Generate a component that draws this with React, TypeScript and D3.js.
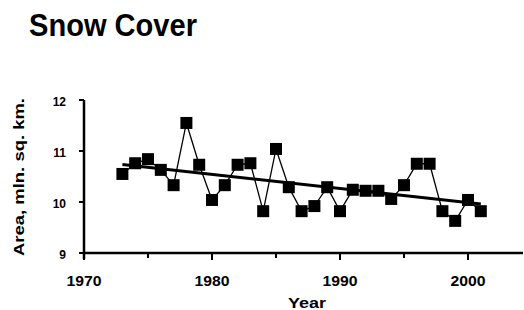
import React, { useEffect, useRef } from "react";
import * as d3 from "d3";

const years = [
  1973, 1974, 1975, 1976, 1977, 1978, 1979, 1980, 1981, 1982, 1983, 1984, 1985,
  1986, 1987, 1988, 1989, 1990, 1991, 1992, 1993, 1994, 1995, 1996, 1997, 1998,
  1999, 2000, 2001,
];
const snowArea = [
  10.55, 10.76, 10.84, 10.63, 10.33, 11.55, 10.73, 10.04, 10.33, 10.73, 10.76,
  9.82, 11.04, 10.29, 9.82, 9.92, 10.29, 9.82, 10.24, 10.22, 10.22, 10.06,
  10.33, 10.75, 10.75, 9.82, 9.63, 10.04, 9.82,
];
const yTicks = [9, 10, 11, 12];
const xTicks = [1970, 1980, 1990, 2000];
const xMinorTicks = [1975, 1985, 1995];

const App = () => {
  const svgRef: any = useRef();

  useEffect(() => {
    const svg = d3.select(svgRef.current);
    svg.selectAll("*").remove();
    const width = 524;
    const height = 310;
    svg.attr("width", width).attr("height", height);

    const x = d3.scaleLinear().domain([1970, 2000]).range([84, 468]);
    const y = d3.scaleLinear().domain([9, 12]).range([253, 100]);
    const data = years.map((yr, i) => ({ yr, v: snowArea[i] }));
    const font = "'Liberation Sans', Arial, sans-serif";

    // title
    svg
      .append("text")
      .attr("x", 29)
      .attr("y", 36)
      .attr("font-family", "'Liberation Sans Narrow', 'Liberation Sans', sans-serif")
      .attr("font-weight", "bold")
      .attr("font-size", 32)
      .attr("textLength", 168)
      .attr("lengthAdjust", "spacingAndGlyphs")
      .text("Snow Cover");

    // y axis label
    svg
      .append("text")
      .attr("transform", "translate(24,177) rotate(-90)")
      .attr("text-anchor", "middle")
      .attr("font-family", font)
      .attr("font-weight", "bold")
      .attr("font-size", 15)
      .attr("textLength", 158)
      .attr("lengthAdjust", "spacingAndGlyphs")
      .text("Area, mln. sq. km.");

    // axes
    const axisG = svg.append("g").attr("stroke", "#000");
    axisG
      .append("line")
      .attr("x1", x(1970))
      .attr("x2", 523)
      .attr("y1", y(9))
      .attr("y2", y(9))
      .attr("stroke-width", 2.5);
    axisG
      .append("line")
      .attr("x1", x(1970))
      .attr("x2", x(1970))
      .attr("y1", y(12))
      .attr("y2", y(9) + 6)
      .attr("stroke-width", 2.5);
    axisG
      .selectAll(".ytick")
      .data(yTicks)
      .join("line")
      .attr("class", "ytick")
      .attr("x1", x(1970) - 5)
      .attr("x2", x(1970))
      .attr("y1", (d) => y(d))
      .attr("y2", (d) => y(d))
      .attr("stroke-width", 2);
    axisG
      .selectAll(".xtick")
      .data([...xTicks, ...xMinorTicks])
      .join("line")
      .attr("class", "xtick")
      .attr("x1", (d) => x(d))
      .attr("x2", (d) => x(d))
      .attr("y1", y(9))
      .attr("y2", (d) => y(9) + (xTicks.includes(d) ? 7 : 5))
      .attr("stroke-width", 2);

    svg
      .selectAll(".ylab")
      .data(yTicks)
      .join("text")
      .attr("class", "ylab")
      .attr("x", 66)
      .attr("y", (d) => y(d) + 6)
      .attr("text-anchor", "end")
      .attr("font-family", font)
      .attr("font-weight", "bold")
      .attr("font-size", 12)
      .text((d) => d);

    svg
      .selectAll(".xlab")
      .data(xTicks)
      .join("text")
      .attr("class", "xlab")
      .attr("x", (d) => x(d))
      .attr("y", 286)
      .attr("text-anchor", "middle")
      .attr("font-family", font)
      .attr("font-weight", "bold")
      .attr("font-size", 14)
      .attr("textLength", 35)
      .attr("lengthAdjust", "spacingAndGlyphs")
      .text((d) => d);

    svg
      .append("text")
      .attr("x", 307)
      .attr("y", 308)
      .attr("text-anchor", "middle")
      .attr("font-family", font)
      .attr("font-weight", "bold")
      .attr("font-size", 14)
      .attr("textLength", 38)
      .attr("lengthAdjust", "spacingAndGlyphs")
      .text("Year");

    // linear trend
    const mx = d3.mean(years) as number;
    const my = d3.mean(snowArea) as number;
    const slope =
      d3.sum(data, (d) => (d.yr - mx) * (d.v - my)) /
      d3.sum(data, (d) => (d.yr - mx) ** 2);
    const trend = (yr: number) => my + slope * (yr - mx);
    const first = years[0];
    const last = years[years.length - 1];
    svg
      .append("line")
      .attr("x1", x(first))
      .attr("x2", x(last))
      .attr("y1", y(trend(first)))
      .attr("y2", y(trend(last)))
      .attr("stroke", "#000")
      .attr("stroke-width", 3);

    // data line
    const line = d3
      .line<any>()
      .x((d) => x(d.yr))
      .y((d) => y(d.v));
    svg
      .append("path")
      .datum(data)
      .attr("d", line)
      .attr("fill", "none")
      .attr("stroke", "#000")
      .attr("stroke-width", 1.3);

    const s = 12;
    svg
      .selectAll(".pt")
      .data(data)
      .join("rect")
      .attr("class", "pt")
      .attr("x", (d) => x(d.yr) - s / 2)
      .attr("y", (d) => y(d.v) - s / 2)
      .attr("width", s)
      .attr("height", s)
      .attr("fill", "#000");
  }, []);

  return (
    <svg
      ref={svgRef}
      style={{ position: "absolute", left: 0, top: 0, background: "#fff" }}
    ></svg>
  );
};

export default App;
